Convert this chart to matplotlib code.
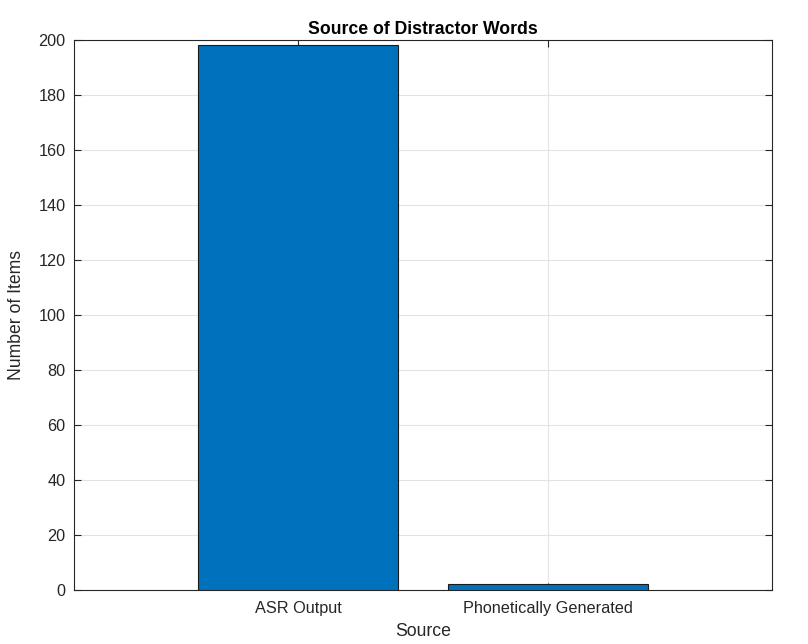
import matplotlib
matplotlib.use("Agg")
import matplotlib.pyplot as plt

categories = ["ASR Output", "Phonetically Generated"]
counts = [198, 2]

plt.rcParams["font.family"] = ["Liberation Sans", "DejaVu Sans"]

fig = plt.figure(figsize=(8.08, 6.44), dpi=100)
ax = fig.add_axes([74 / 808, 1 - 590 / 644, (772 - 74) / 808, (590 - 39.5) / 644])

x = list(range(1, len(categories) + 1))
ax.bar(x, counts, width=0.8, color="#0072BD", edgecolor="#1a1a1a", linewidth=0.8, zorder=3)

ax.set_xlim(0.104, 2.896)
ax.set_ylim(0, 200)
ax.set_xticks(x)
ax.set_xticklabels(categories)
ax.set_yticks(range(0, 201, 20))

ax.grid(True, color="#e3e3e3", linewidth=0.8, zorder=0)
ax.set_axisbelow(True)
for s in ax.spines.values():
    s.set_color("#262626")
    s.set_linewidth(0.8)
ax.tick_params(direction="in", length=5, width=0.8, colors="#262626",
               labelsize=11.7, top=True, right=True)
ax.tick_params(axis="x", pad=8)
ax.tick_params(axis="y", pad=6)

ax.set_title("Source of Distractor Words", fontsize=12.7, fontweight="bold", pad=4)
ax.set_xlabel("Source", fontsize=12.7, labelpad=5, color="#262626")
ax.set_ylabel("Number of Items", fontsize=12.7, labelpad=10, color="#262626")

fig.savefig("out.png", dpi=100)
